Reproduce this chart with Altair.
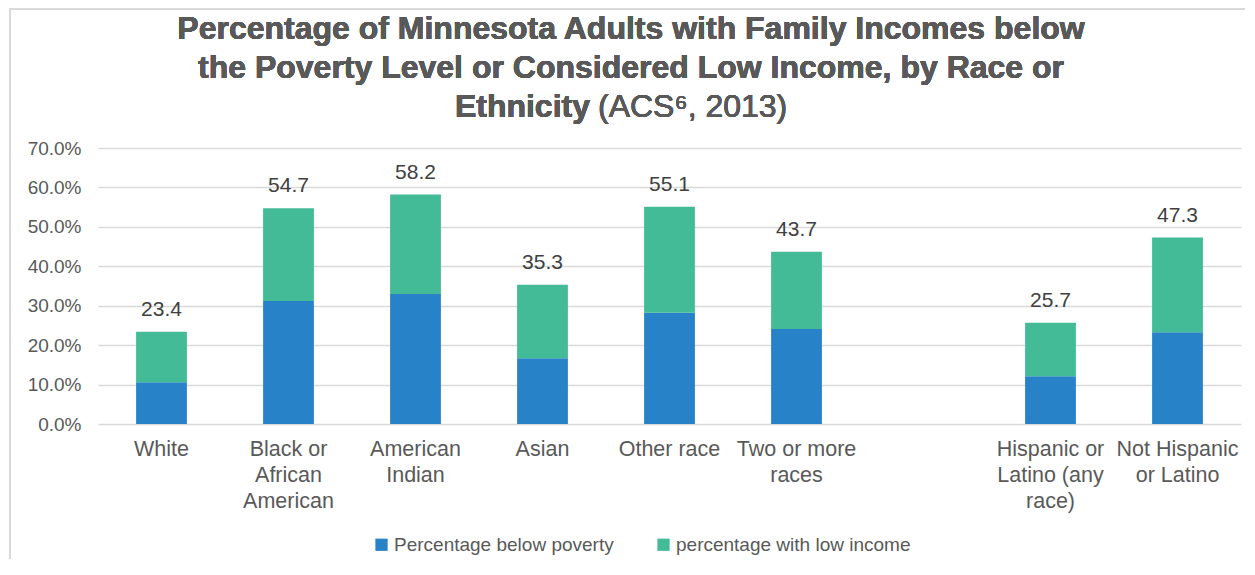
import altair as alt
import pandas as pd

FONT = "Liberation Sans"
GRAY = "#595959"

categories = ["White", "Black or|African|American", "American|Indian", "Asian", "Other race",
              "Two or more|races", " ", "Hispanic or|Latino (any|race)", "Not Hispanic|or Latino"]
bar_categories = ["White", "Black or|African|American", "American|Indian", "Asian", "Other race",
                  "Two or more|races", "Hispanic or|Latino (any|race)", "Not Hispanic|or Latino"]
below_poverty = [10.6, 31.2, 33.0, 16.7, 28.2, 24.1, 12.1, 23.3]
totals = [23.4, 54.7, 58.2, 35.3, 55.1, 43.7, 25.7, 47.3]
series = ["Percentage below poverty", "percentage with low income"]
colors = ["#2882c8", "#43bb97"]
y_ticks = [0, 10, 20, 30, 40, 50, 60, 70]

rows = []
for c, p, t in zip(bar_categories, below_poverty, totals):
    rows.append({"category": c, "series": series[0], "value": p, "ord": 0})
    rows.append({"category": c, "series": series[1], "value": round(t - p, 1), "ord": 1})
df = pd.DataFrame(rows)
tot_df = pd.DataFrame({"category": bar_categories, "total": totals})

x_scale = alt.Scale(domain=categories, paddingInner=0.6, paddingOuter=0.3)
y_scale = alt.Scale(domain=[0, 70], nice=False)

x_axis = alt.Axis(title=None, labelExpr="split(datum.label, '|')", labelAngle=0,
                  labelFont=FONT, labelFontSize=21.5, labelColor=GRAY,
                  labelLineHeight=26, labelPadding=14, ticks=False, domain=False,
                  labelOverlap=False, grid=False)
y_axis = alt.Axis(title=None, values=y_ticks,
                  labelExpr="format(datum.value, '.1f') + '%'",
                  labelFont=FONT, labelFontSize=19, labelColor=GRAY,
                  labelPadding=17, ticks=False, domain=False, labelOverlap=False,
                  grid=True, gridColor="#d9d9d9", gridWidth=1.5)

bars = alt.Chart(df).mark_bar().encode(
    x=alt.X("category:N", scale=x_scale, axis=x_axis),
    y=alt.Y("value:Q", stack="zero", scale=y_scale, axis=y_axis),
    color=alt.Color("series:N", scale=alt.Scale(domain=series, range=colors),
                    legend=alt.Legend(orient="none", legendX=274, legendY=387,
                                      direction="horizontal", title=None,
                                      symbolType="square", symbolSize=150,
                                      symbolStrokeWidth=0, labelFont=FONT,
                                      labelFontSize=19, labelColor=GRAY, labelLimit=400,
                                      columnPadding=40, labelOffset=3)),
    order=alt.Order("ord:Q"),
)

labels = alt.Chart(tot_df).mark_text(
    baseline="bottom", dy=-12, font=FONT, fontSize=21, color="#404040"
).encode(
    x=alt.X("category:N", scale=x_scale, axis=x_axis),
    y=alt.Y("total:Q", scale=y_scale, axis=y_axis),
    text=alt.Text("total:Q", format=".1f"),
)

cx = 533
TS = 32
t1 = alt.Chart(tot_df).mark_text(
    text="Percentage of Minnesota Adults with Family Incomes below",
    font=FONT, fontSize=TS, fontWeight="bold", color=GRAY, align="center", baseline="alphabetic"
).encode(x=alt.value(cx), y=alt.value(-109))
t2 = alt.Chart(tot_df).mark_text(
    text="the Poverty Level or Considered Low Income, by Race or",
    font=FONT, fontSize=TS, fontWeight="bold", color=GRAY, align="center", baseline="alphabetic"
).encode(x=alt.value(cx), y=alt.value(-70))
t3a = alt.Chart(tot_df).mark_text(
    text="Ethnicity",
    font=FONT, fontSize=TS, fontWeight="bold", color=GRAY, align="right", baseline="alphabetic"
).encode(x=alt.value(492), y=alt.value(-31))
t3b = alt.Chart(tot_df).mark_text(
    text="(ACS\u2076, 2013)",
    font=FONT, fontSize=TS, color=GRAY, align="left", baseline="alphabetic"
).encode(x=alt.value(500), y=alt.value(-31))

# light chart-area border (top and left edges)
border_top = alt.Chart(tot_df).mark_rule(color="#d9d9d9", strokeWidth=2).encode(
    x=alt.value(-89), x2=alt.value(1160), y=alt.value(-139))
border_left = alt.Chart(tot_df).mark_rule(color="#d9d9d9", strokeWidth=2).encode(
    x=alt.value(-88), y=alt.value(-140), y2=alt.value(420))

chart = alt.layer(border_top, border_left, bars, labels, t1, t2, t3a, t3b).properties(
    width=1143, height=276,
    autosize=alt.AutoSizeParams(type="none"),
    padding={"left": 90, "top": 140, "right": 4, "bottom": 135},
).configure_view(stroke=None)

chart.save("out.html", embed_options={"renderer": "svg", "actions": False})
